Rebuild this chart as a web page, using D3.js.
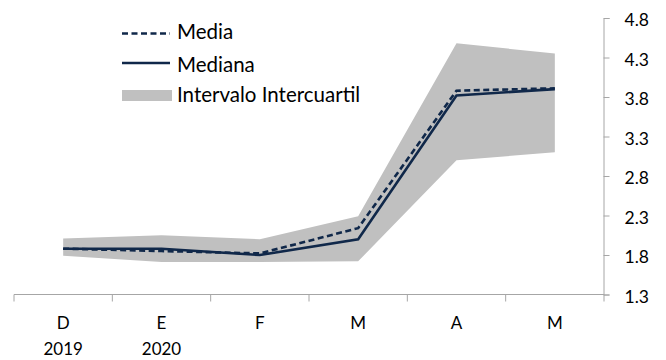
<!DOCTYPE html>
<html><head><meta charset="utf-8">
<script src="https://cdn.jsdelivr.net/npm/d3@7/dist/d3.min.js"></script>
<style>body{margin:0;background:#fff}svg{display:block}text{font-family:Lato,"Open Sans",sans-serif}</style>
</head><body>
<svg id="c" width="666" height="360"></svg>
<script>
const categories = ["D","E","F","M","A","M"];
const years = ["2019","2020","","","",""];
const media = [1.88,1.85,1.82,2.14,3.88,3.91];
const mediana = [1.88,1.88,1.80,2.00,3.82,3.90];
const q1 = [1.79,1.71,1.71,1.72,3.00,3.10];
const q3 = [2.01,2.05,2.00,2.29,4.48,4.35];
const yTicks = [1.3,1.8,2.3,2.8,3.3,3.8,4.3,4.8];

const svg = d3.select("#c");
const navy = "#10284a", gray = "#c0c0c0", axisCol = "#a6a6a6";
const x = d3.scaleBand().domain(d3.range(categories.length)).range([14,604]);
const cx = i => x(i) + x.bandwidth()/2;
const y = d3.scaleLinear().domain([1.3,4.8]).range([294.5,18]);

// band
svg.append("path").datum(d3.range(categories.length))
  .attr("fill", gray)
  .attr("d", d3.area().x(cx).y0(i=>y(q1[i])).y1(i=>y(q3[i])));

// lines
const line = arr => d3.line().x(cx).y(i=>y(arr[i]))(d3.range(arr.length));
svg.append("path").attr("d", line(mediana)).attr("fill","none").attr("stroke",navy).attr("stroke-width",2.6);
svg.append("path").attr("d", line(media)).attr("fill","none").attr("stroke",navy).attr("stroke-width",2.6).attr("stroke-dasharray","6,3.5");

// x axis
const xa = svg.append("g");
xa.append("line").attr("x1",14).attr("x2",604).attr("y1",294.5).attr("y2",294.5).attr("stroke",axisCol);
const xt = d3.range(categories.length+1).map(i => i<categories.length ? x(i) : x(categories.length-1)+x.bandwidth());
xa.selectAll("line.t").data(xt).enter().append("line")
  .attr("x1",d=>d).attr("x2",d=>d).attr("y1",294.5).attr("y2",301.5).attr("stroke",axisCol);
xa.selectAll("text.c").data(categories).enter().append("text")
  .attr("x",(d,i)=>cx(i)).attr("y",329).attr("text-anchor","middle")
  .attr("font-size",17).attr("fill","#000").text(d=>d);
xa.selectAll("text.yr").data(years).enter().append("text")
  .attr("x",(d,i)=>cx(i)).attr("y",355).attr("text-anchor","middle")
  .attr("font-size",17).attr("fill","#000").text(d=>d);

// y axis (right)
const ya = svg.append("g").attr("transform","translate(603.5,0)")
  .call(d3.axisRight(y).tickValues(yTicks).tickSize(6).tickPadding(15).tickFormat(d3.format(".1f")));
ya.select(".domain").attr("stroke",axisCol);
ya.selectAll(".tick line").attr("stroke",axisCol);
ya.selectAll(".tick text").attr("font-size",17.5).attr("fill","#000").attr("font-family","Lato,'Open Sans',sans-serif").attr("dy","0.45em");

// legend
const lg = svg.append("g");
lg.append("line").attr("x1",122).attr("x2",170).attr("y1",33.5).attr("y2",33.5).attr("stroke",navy).attr("stroke-width",2.6).attr("stroke-dasharray","6,3.5");
lg.append("text").attr("x",177).attr("y",39).attr("font-size",20.5).text("Media");
lg.append("line").attr("x1",122).attr("x2",170).attr("y1",63).attr("y2",63).attr("stroke",navy).attr("stroke-width",2.6);
lg.append("text").attr("x",177).attr("y",72).attr("font-size",20.5).text("Mediana");
lg.append("rect").attr("x",122).attr("y",90).attr("width",50).attr("height",11).attr("fill",gray);
lg.append("text").attr("x",177).attr("y",102).attr("font-size",20.5).text("Intervalo Intercuartil");
</script>
</body></html>
